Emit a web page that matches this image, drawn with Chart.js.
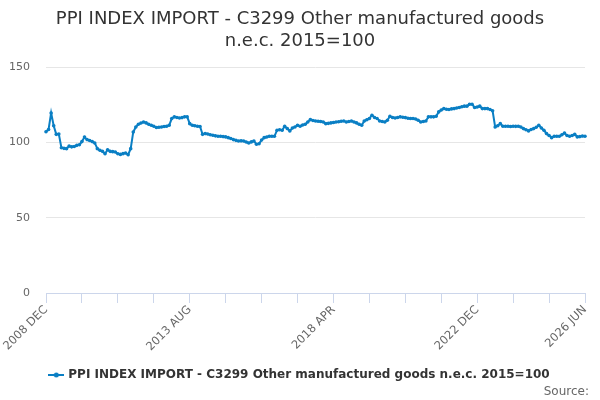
<!DOCTYPE html>
<html>
<head>
<meta charset="utf-8">
<script src="https://cdn.jsdelivr.net/npm/chart.js@4/dist/chart.umd.min.js"></script>
<style>
  html, body { margin: 0; padding: 0; background: #fff; }
  #wrap { width: 600px; height: 400px; }
</style>
</head>
<body>
<div id="wrap"><canvas id="chart"></canvas></div>
<script>
const chartTitle = ['PPI INDEX IMPORT - C3299 Other manufactured goods', 'n.e.c. 2015=100'];
const seriesName = 'PPI INDEX IMPORT - C3299 Other manufactured goods n.e.c. 2015=100';
const monthNames = ['JAN', 'FEB', 'MAR', 'APR', 'MAY', 'JUN', 'JUL', 'AUG', 'SEP', 'OCT', 'NOV', 'DEC'];
const startYear = 2008, startMonth = 11; // 2008 DEC
const yTicks = [0, 50, 100, 150];

// monthly index values, 2008 DEC .. 2026 JUN
const ppiValues = [
  107, 108.5, 119.5, 111, 105.3, 105.5, 96.4, 96, 95.8, 97.5, 97, 97.2,
  98, 98.4, 100.5, 103.5, 101.8, 101.2, 100.5, 99.6, 95.8, 94.7, 94, 92.4,
  95.1, 94, 93.8, 93.6, 92.4, 92, 92.5, 92.9, 91.8, 95.8, 106.9, 110.2,
  112, 112.8, 113.5, 112.9, 112, 111.3, 110.7, 109.8, 110, 110.2, 110.5, 110.7,
  111.3, 115.8, 116.9, 116.5, 116.2, 116.4, 116.9, 116.9, 112.4, 111.3, 111, 110.7,
  110.5, 105.3, 105.8, 105.5, 105, 104.7, 104.3, 104, 104, 103.8, 103.6, 103.1,
  102.5, 101.8, 101.3, 100.9, 101, 100.9, 100.2, 99.6, 100.3, 100.9, 98.7, 99.1,
  101.5, 103.1, 103.5, 104, 104, 104, 108, 108.4, 108, 110.7, 109.1, 107.6,
  109.5, 110.2, 111.3, 110.7, 111.5, 112, 113.5, 115.1, 114.5, 114.2, 114, 113.8,
  113.5, 112.4, 112.6, 112.9, 113.2, 113.5, 113.7, 114, 114.2, 113.5, 113.8, 114.2,
  113.5, 112.9, 112, 111.3, 114.2, 115, 115.8, 118, 116.5, 115.8, 114.2, 113.8,
  113.5, 114.7, 117.3, 116.5, 116.2, 116.5, 116.9, 116.6, 116.4, 116, 115.8, 115.8,
  115.5, 114.7, 113.5, 113.8, 114.2, 116.9, 116.9, 116.9, 117.3, 120.2, 121.5, 122.4,
  122, 121.8, 122.2, 122.4, 122.8, 123.1, 123.6, 124, 124, 125.3, 125.3, 123.1,
  123.5, 124, 122.4, 122.4, 122.4, 121.8, 120.9, 110.2, 111, 112.4, 110.7, 110.7,
  110.7, 110.5, 110.7, 110.6, 110.7, 110.2, 109.1, 108.4, 107.6, 108.5, 109.1, 110,
  111.3, 109.5, 108, 105.8, 104.5, 103.1, 104, 104, 104, 105, 106.2, 104.5,
  104, 104.5, 105.3, 103.6, 103.8, 104.2, 104
];

// one category per month
const monthLabels = ppiValues.map((v, i) => {
  const m = startMonth + i;
  return (startYear + Math.floor(m / 12)) + ' ' + monthNames[m % 12];
});

const lineColor = '#0a7fc4';
const font = 'DejaVu Sans';

// legend symbol: short line with a dot
const legendSymbol = document.createElement('canvas');
legendSymbol.width = 16;
legendSymbol.height = 8;
(function () {
  const c = legendSymbol.getContext('2d');
  c.strokeStyle = lineColor;
  c.lineWidth = 2;
  c.beginPath(); c.moveTo(0, 4); c.lineTo(16, 4); c.stroke();
  c.fillStyle = lineColor;
  c.beginPath(); c.arc(8, 4, 2.5, 0, Math.PI * 2); c.fill();
})();

const sourcePlugin = {
  id: 'sourceText',
  afterDraw(chart) {
    const c = chart.ctx;
    c.save();
    c.font = '12px "' + font + '"';
    c.fillStyle = '#666';
    c.textAlign = 'right';
    c.textBaseline = 'alphabetic';
    c.fillText('Source:', 589, 395);
    c.restore();
  }
};

new Chart(document.getElementById('chart'), {
  type: 'line',
  data: {
    labels: monthLabels,
    datasets: [{
      label: seriesName,
      data: ppiValues,
      borderColor: lineColor,
      backgroundColor: lineColor,
      borderWidth: 2,
      pointRadius: 1.8,
      pointHoverRadius: 3,
      pointBorderWidth: 0,
      pointStyle: 'circle',
      tension: 0
    }]
  },
  plugins: [sourcePlugin],
  options: {
    responsive: true,
    maintainAspectRatio: false,
    animation: false,
    layout: { padding: { left: 0, right: 0, top: 0, bottom: 9 } },
    scales: {
      x: {
        grid: {
          drawOnChartArea: false,
          drawTicks: true,
          tickLength: 10,
          color: '#ccd6eb'
        },
        border: { display: true, color: '#ccd6eb' },
        afterBuildTicks: axis => {
          axis.ticks = axis.ticks.filter(t => t.value % 14 === 0);
        },
        afterFit: axis => { axis.height = 68; },
        ticks: {
          autoSkip: false,
          maxRotation: 45,
          minRotation: 45,
          padding: 0,
          color: '#666',
          font: { family: font, size: 11.5 },
          callback: function (value) {
            return (value % 56 === 0 || value === ppiValues.length - 1) ? this.getLabelForValue(value) : '';
          }
        }
      },
      y: {
        min: 0,
        max: 150,
        afterBuildTicks: axis => { axis.ticks = yTicks.map(v => ({ value: v })); },
        afterFit: axis => { axis.width = 46; },
        grid: { color: '#e6e6e6', drawTicks: false },
        border: { display: false },
        ticks: {
          padding: 16,
          color: '#666',
          font: { family: font, size: 11 }
        }
      },
      // empty right-hand spacer so title and legend stay centred on the page
      spacer: {
        type: 'linear',
        position: 'right',
        display: true,
        grid: { display: false },
        border: { display: false },
        ticks: { display: false },
        afterFit: axis => { axis.width = 15; }
      }
    },
    plugins: {
      title: {
        display: true,
        text: chartTitle,
        color: '#333',
        font: { family: font, size: 18, weight: 'normal', lineHeight: 1.25 },
        padding: { top: 8, bottom: 14 }
      },
      legend: {
        position: 'bottom',
        labels: {
          usePointStyle: true,
          pointStyle: legendSymbol,
          color: '#333',
          padding: 8,
          font: { family: font, size: 12, weight: 'bold' }
        }
      },
      tooltip: { enabled: false }
    }
  }
});
</script>
</body>
</html>
